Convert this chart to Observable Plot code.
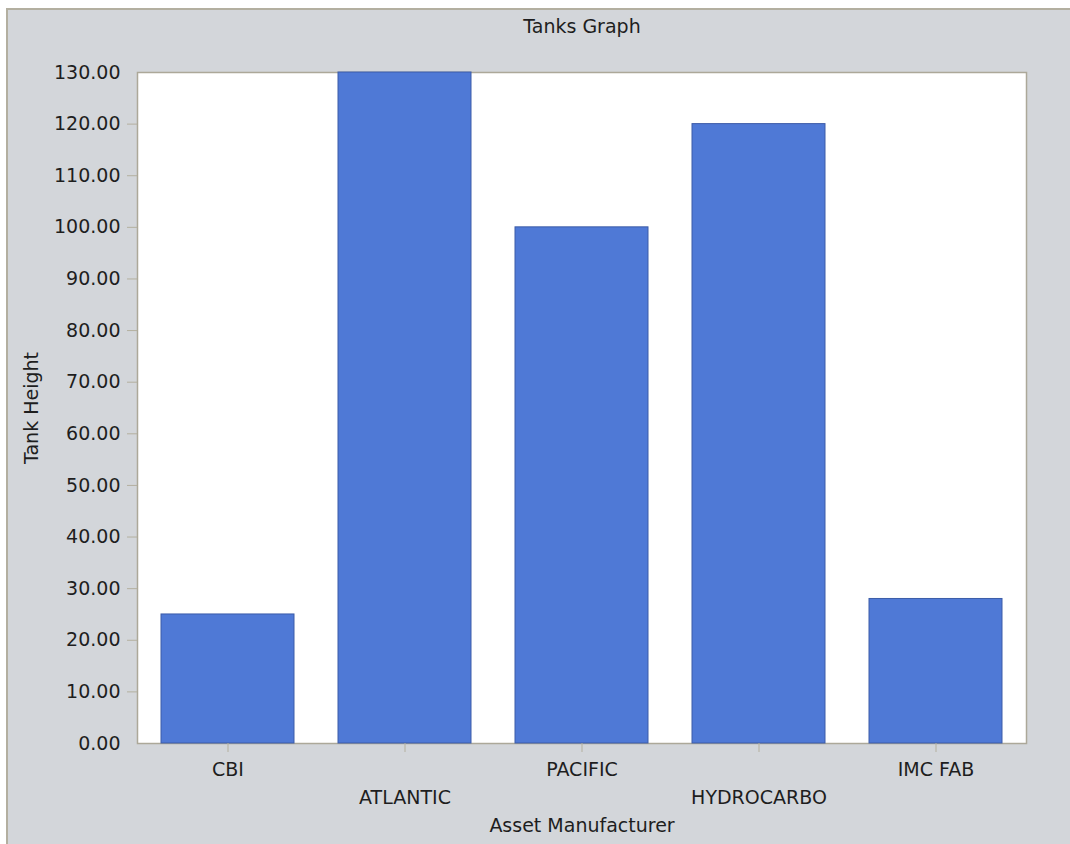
<!DOCTYPE html>
<html><head><meta charset="utf-8">
<script src="https://cdn.jsdelivr.net/npm/d3@7"></script>
<script src="https://cdn.jsdelivr.net/npm/@observablehq/plot@0.6"></script>
<style>
html,body{margin:0;padding:0;background:#fff;overflow:hidden}
#wrap{position:absolute;left:6px;top:8px;border-top:2px solid #b3afa0;border-left:2px solid #b3afa0;background:#d3d6da;width:1062px;height:834px}
</style></head><body><div id="wrap"></div>
<script>
const chartTitle = "Tanks Graph";
const xTitle = "Asset Manufacturer";
const yTitle = "Tank Height";
const manufacturers = ["CBI", "ATLANTIC", "PACIFIC", "HYDROCARBO", "IMC FAB"];
const tankHeights = [25, 130, 100, 120, 28];
const yTicks = [0, 10, 20, 30, 40, 50, 60, 70, 80, 90, 100, 110, 120, 130];

const data = manufacturers.map((m, i) => ({m, h: tankHeights[i]}));
const innerTicks = yTicks.filter(t => t > yTicks[0] && t < yTicks[yTicks.length - 1]);
const topRow = manufacturers.filter((_, i) => i % 2 === 0);
const tickColor = "#b4b09f";
const textColor = "#1e1e1e";

const chart = Plot.plot({
  width: 1062,
  height: 834,
  marginLeft: 129,
  marginRight: 44,
  marginTop: 62,
  marginBottom: 101,
  style: {background: "transparent", fontFamily: "'DejaVu Sans', sans-serif", fontSize: "19px", color: textColor},
  x: {domain: manufacturers, paddingInner: 0.25, paddingOuter: 0.125, label: null},
  y: {domain: [0, 130], label: null},
  marks: [
    Plot.frame({fill: "white", stroke: "#aca899", strokeWidth: 1.5}),
    Plot.barY(data, {x: "m", y: "h", fill: "#4f79d6", stroke: "#3c5ca8", strokeWidth: 1}),
    Plot.axisY({ticks: yTicks, tickSize: 0, tickPadding: 17, tickFormat: d => d.toFixed(2), label: null, fill: textColor}),
    Plot.axisY({ticks: innerTicks, tickSize: 10, tickFormat: () => "", label: null, stroke: tickColor}),
    Plot.axisX({tickSize: 9, tickFormat: () => "", label: null, stroke: tickColor}),
    Plot.axisX({tickSize: 0, tickPadding: 19, tickFormat: d => topRow.includes(d) ? d : "", label: null, fill: textColor}),
    Plot.axisX({tickSize: 0, tickPadding: 47, tickFormat: d => topRow.includes(d) ? "" : d, label: null, fill: textColor}),
    Plot.text([chartTitle], {frameAnchor: "top", dy: -46, text: d => d, lineAnchor: "middle", textAnchor: "middle", fill: textColor}),
    Plot.text([xTitle], {frameAnchor: "bottom", dy: 82, text: d => d, lineAnchor: "middle", textAnchor: "middle", fill: textColor}),
    Plot.text([yTitle], {frameAnchor: "left", dx: -106, rotate: -90, text: d => d, lineAnchor: "middle", textAnchor: "middle", fill: textColor})
  ]
});
document.getElementById("wrap").appendChild(chart);
</script>
</body></html>
